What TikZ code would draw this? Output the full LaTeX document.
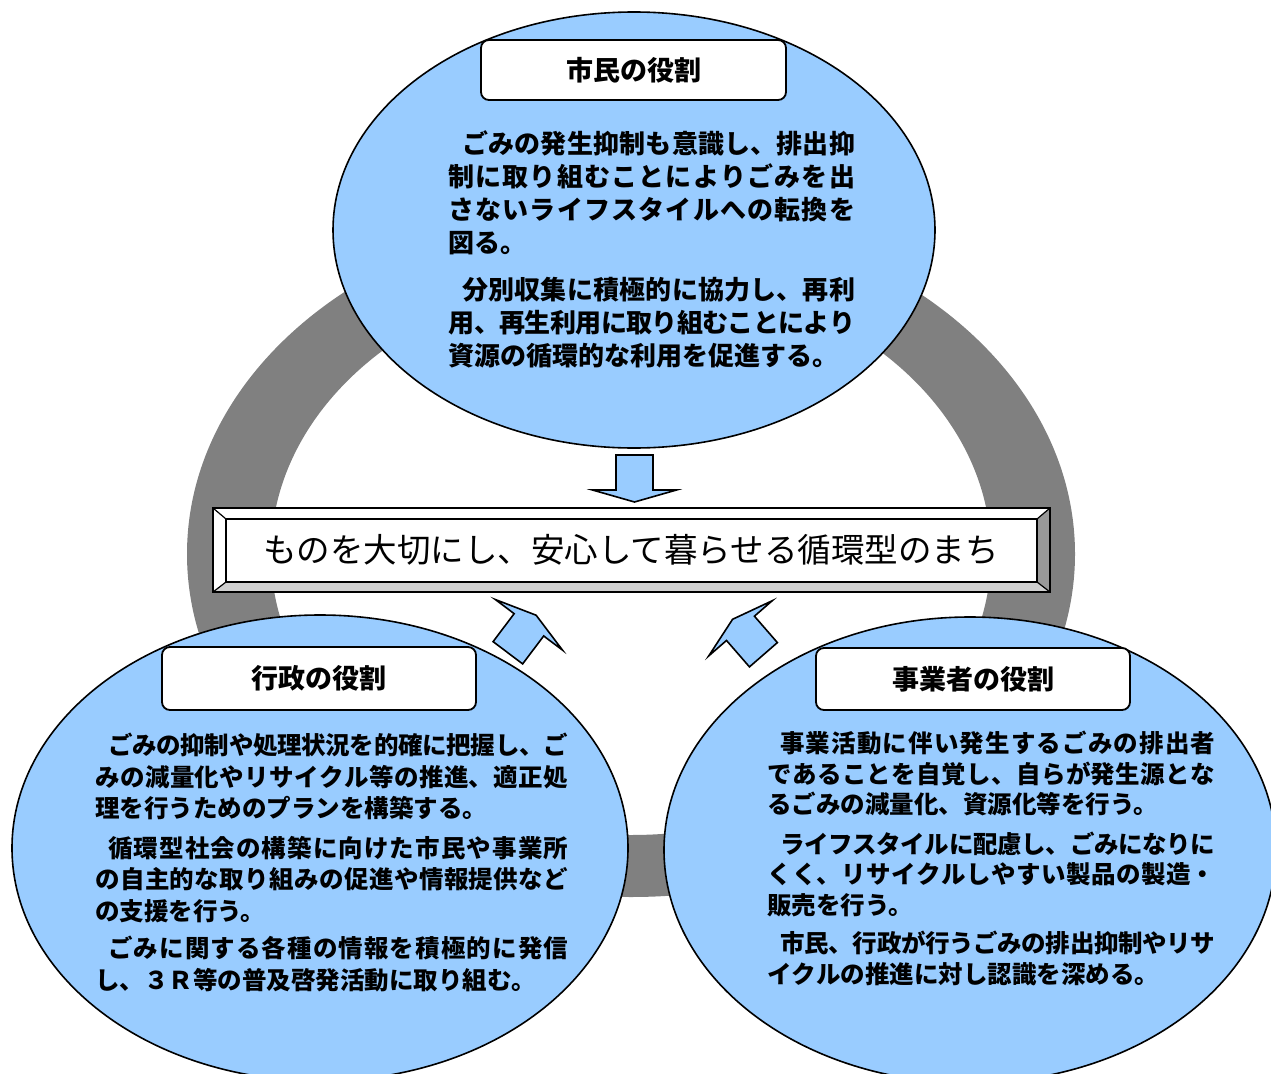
\documentclass[tikz,border=0pt]{standalone}
\usepackage{fontspec}
\newfontfamily\jp{Noto Sans CJK JP}
\usetikzlibrary{shapes.geometric}
\XeTeXlinebreaklocale "ja"
\XeTeXlinebreakskip=0pt plus 3pt minus 1.5pt
\setlength{\parindent}{0pt}
\definecolor{ltblue}{HTML}{99CCFF}
\definecolor{ringgray}{HTML}{808080}
\definecolor{bevlight}{HTML}{D0D0D0}
\definecolor{bevdark}{HTML}{999999}
\newcommand{\blkarrowpath}{(-18.5,23.5) -- (18.5,23.5) -- (18.5,-11.5) -- (42,-11.5) -- (0,-23.5) -- (-42,-11.5) -- (-18.5,-11.5) -- cycle}
\tikzset{
  role/.style={ellipse, draw=black, line width=1.6pt, fill=ltblue, inner sep=0pt},
  titlebox/.style={draw=black, line width=1.8pt, fill=white, rounded corners=8pt, inner sep=0pt, font=\jp\bfseries\fontsize{27}{32}\selectfont},
  bodytext/.style={anchor=north west, align=justify, inner sep=0pt},
  blockarrow/.style={draw=black, line width=1.6pt, fill=ltblue, line join=miter},
}
\begin{document}
\begin{tikzpicture}[x=1pt,y=-1pt]
\useasboundingbox (0,0) rectangle (1271,1073);
% ring
\fill[ringgray, even odd rule] (631,554) ellipse [x radius=444pt, y radius=343pt] (631,554) ellipse [x radius=360pt, y radius=281pt];
% role ellipses
\node[role, minimum width=602pt, minimum height=436pt] (citizen) at (634,230) {};
\node[role, minimum width=616pt, minimum height=466pt] (gov) at (320,848) {};
\node[role, minimum width=612pt, minimum height=466pt] (biz) at (970,850) {};
% titles
\node[titlebox, minimum width=305pt, minimum height=60pt] (tcit) at (633.5,70) {市民の役割};
\node[titlebox, minimum width=314pt, minimum height=63pt] (tgov) at (319,678.5) {行政の役割};
\node[titlebox, minimum width=314pt, minimum height=62pt] (tbiz) at (973,679) {事業者の役割};
% body texts
\node[bodytext, text width=407pt, font=\jp\bfseries\fontsize{26}{33}\selectfont] (bcit) at (448,130) {\hspace*{14pt}ごみの発生抑制も意識し、排出抑\linebreak 制に取り組むことによりごみを出\linebreak さないライフスタイルへの転換を\linebreak 図る。\par\vspace{14pt}\hspace*{14pt}分別収集に積極的に協力し、再利\linebreak 用、再生利用に取り組むことにより\linebreak 資源の循環的な利用を促進する。\par};
\node[bodytext, text width=473pt, font=\jp\bfseries\fontsize{24.5}{31.5}\selectfont] (bgov) at (95,733) {\hspace*{13pt}ごみの抑制や処理状況を的確に把握し、ご\linebreak みの減量化やリサイクル等の推進、適正処\linebreak 理を行うためのプランを構築する。\par\vspace{8pt}\hspace*{13pt}循環型社会の構築に向けた市民や事業所\linebreak の自主的な取り組みの促進や情報提供など\linebreak の支援を行う。\par\vspace{6pt}\hspace*{13pt}ごみに関する各種の情報を積極的に発信\linebreak し、３Ｒ等の普及啓発活動に取り組む。\par};
\node[bodytext, text width=448pt, font=\jp\bfseries\fontsize{24.5}{30.5}\selectfont] (bbiz) at (767,731) {\hspace*{13pt}事業活動に伴い発生するごみの排出者\linebreak であることを自覚し、自らが発生源とな\linebreak るごみの減量化、資源化等を行う。\par\vspace{9pt}\hspace*{13pt}ライフスタイルに配慮し、ごみになりに\linebreak くく、リサイクルしやすい製品の製造・\linebreak 販売を行う。\par\vspace{8pt}\hspace*{13pt}市民、行政が行うごみの排出抑制やリサ\linebreak イクルの推進に対し認識を深める。\par};
% central beveled box
\fill[white] (213,508) rectangle (1050,592);
\fill[white] (213,508) -- (1050,508) -- (1037,519) -- (226,519) -- cycle;
\fill[bevdark] (1050,508) -- (1050,592) -- (1037,582) -- (1037,519) -- cycle;
\fill[bevlight] (213,592) -- (1050,592) -- (1037,582) -- (226,582) -- cycle;
\draw[line width=1.6pt] (213,508) rectangle (1050,592);
\draw[line width=1.6pt] (226,519) rectangle (1037,582);
\draw[line width=1.2pt] (213,508) -- (226,519) (1050,508) -- (1037,519) (213,592) -- (226,582) (1050,592) -- (1037,582);
\node[inner sep=0pt, font=\jp\fontsize{33.5}{38}\selectfont] (goal) at (631,550) {ものを大切にし、安心して暮らせる循環型のまち};
% arrows
\begin{scope}[shift={(634.5,478.5)}, rotate=180]
  \draw[blockarrow] \blkarrowpath;
\end{scope}
\begin{scope}[shift={(522,634)}, rotate=-37]
  \draw[blockarrow] \blkarrowpath;
\end{scope}
\begin{scope}[shift={(748,637)}, rotate=41]
  \draw[blockarrow] \blkarrowpath;
\end{scope}
\end{tikzpicture}
\end{document}
